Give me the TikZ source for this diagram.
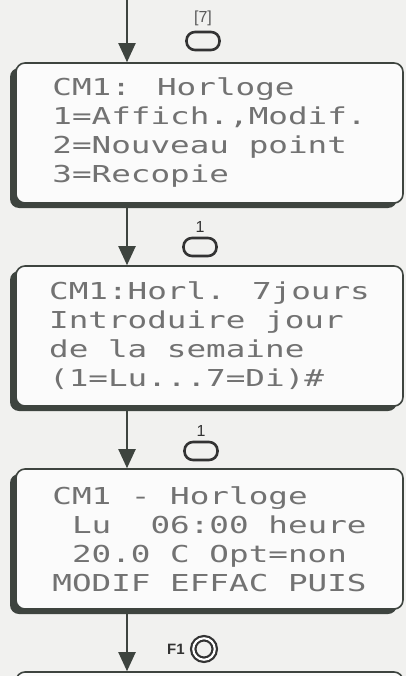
\documentclass[tikz,border=0pt]{standalone}
\usepackage{fontspec}
\setsansfont{Liberation Sans}
\newfontfamily\lcdfont[FakeStretch=1.4]{DejaVu Sans Mono}
\usetikzlibrary{arrows.meta,positioning,shadows}
\definecolor{frame}{HTML}{3E443F}
\definecolor{lcdtext}{HTML}{727272}
\definecolor{paper}{HTML}{F1F1EF}

\begin{document}
\begin{tikzpicture}[x=1pt,y=-1pt,->,>={Triangle[width=17pt,length=19pt]},
                        node distance=203pt,
                        screen/.style={rectangle,rounded corners=9pt,draw=frame,line width=1.6pt,
                          fill=white!97!gray,minimum width=387pt,minimum height=140pt,
                          align=left,text=lcdtext,font=\lcdfont\fontsize{23.3}{29}\selectfont,
                          general shadow={fill=frame,shadow xshift=-6pt,shadow yshift=-5pt}},
                        key/.style={rectangle,rounded corners=8.5pt,draw=black!80,line width=2.6pt,
                          minimum width=33pt,minimum height=18pt,inner sep=0pt},
                        fkey/.style={circle,draw=black!80,line width=2.2pt,double,double distance=2.1pt,
                          minimum size=21.5pt,inner sep=0pt},
                        every label/.style={font=\sffamily\fontsize{16}{18}\selectfont,text=black!80}]

      \clip (0,0) rectangle (406,676);
      \fill[paper] (0,0) rectangle (406,676);

      \node[screen] (1) at (209.5,133) {CM1: Horloge\\1=Affich.,Modif.\\2=Nouveau point\\3=Recopie};
      \node[screen] (2) [below of=1] {CM1:Horl. 7jours\\Introduire jour\\de la semaine\\(1=Lu...7=Di)\#};
      \node[screen] (3) [below of=2] {CM1 - Horloge\\~Lu~~06:00 heure\\~20.0 C Opt=non\\MODIF EFFAC PUIS};
      \node[screen] (4) [below of=3] {};

      \node[key,label={[label distance=1pt,text=black!65]above:{[7]}}] (k1) at (203,41) {};
      \node[key,label={[label distance=1pt]above:1}] (k2) at (200,247) {};
      \node[key,label={[label distance=1pt]above:1}] (k3) at (201,451) {};
      \node[fkey,label={[label distance=4pt,font=\sffamily\bfseries\fontsize{15}{17}\selectfont]left:F1}] (f1) at (204,649) {};

      \coordinate (top) at (127,0);
      \path[every edge/.style={draw=frame,line width=2pt}]
        (top) edge (1.north -| top)
        (1.south -| top) edge (2.north -| top)
        (2.south -| top) edge (3.north -| top)
        (3.south -| top) edge (4.north -| top);

    \end{tikzpicture}
\end{document}
